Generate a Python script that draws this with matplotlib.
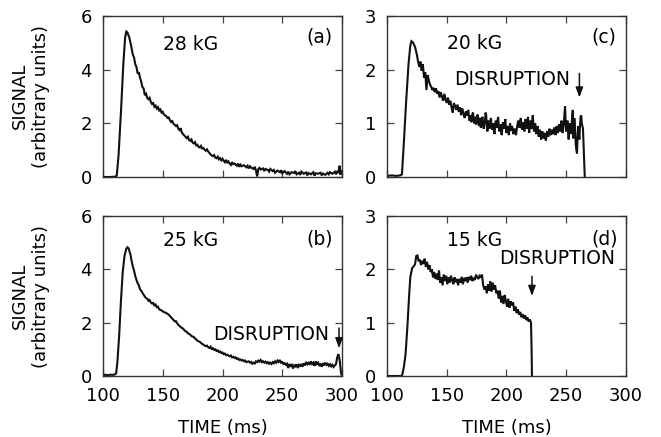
import matplotlib
matplotlib.use("Agg")
import matplotlib.pyplot as plt

plt.rcParams['font.family'] = ['DejaVu Sans']

# ---------------- data ----------------
t_a = [100, 105, 110, 111.5, 113, 115, 117, 118.5, 119.5, 120.5, 122, 123.5, 125, 126, 127, 128, 129, 130,
       131, 132, 133, 134, 135, 136, 137, 138, 139, 140, 141, 142, 143, 144, 145, 146, 147, 148, 149, 150,
       151, 152, 153, 154, 155, 156, 157, 158, 159, 160, 161, 162, 163, 164, 165, 166, 167, 168, 169, 170,
       171, 172, 173, 174, 175, 176, 177, 178, 179, 180, 181, 182, 183, 184, 185, 186, 187, 188, 189, 190,
       191, 192, 193, 194, 195, 196, 197, 198, 199, 200, 201, 202, 203, 204, 205, 206, 207, 208, 209, 210,
       212, 213, 214, 215, 216, 218, 220, 221, 222, 223, 224, 226, 227, 228, 229, 230, 231, 232, 234, 235,
       236, 238, 239, 240, 242, 243, 244, 246, 248, 249, 250, 252, 254, 255, 256, 258, 260, 261, 262, 264,
       265, 266, 268, 270, 271, 272, 274, 276, 277, 278, 280, 282, 283, 284, 286, 288, 289, 290, 292, 294,
       295, 296, 297, 298, 298.8, 299.5, 300]
s_a = [0.0, 0.0, 0.01, 0.05, 0.8, 2.4, 4.2, 5.2, 5.42, 5.38, 5.2, 4.9, 4.55, 4.45, 4.2, 4.1, 3.85, 3.9,
       3.7, 3.55, 3.35, 3.3, 3.05, 3.1, 2.95, 2.9, 2.95, 2.8, 2.72, 2.75, 2.62, 2.66, 2.55, 2.6, 2.48, 2.52, 2.4, 2.43,
       2.33, 2.3, 2.26, 2.2, 2.22, 2.12, 2.05, 2.08, 1.98, 1.95, 1.9, 1.93, 1.8, 1.75, 1.82, 1.65, 1.6, 1.55, 1.5, 1.45,
       1.5, 1.38, 1.35, 1.4, 1.28, 1.25, 1.3, 1.18, 1.2, 1.12, 1.1, 1.16, 1.06, 1.08, 1.02, 0.98, 1.03, 0.95, 0.9, 0.84,
       0.8, 0.78, 0.82, 0.72, 0.7, 0.76, 0.66, 0.7, 0.62, 0.68, 0.6, 0.55, 0.64, 0.52, 0.58, 0.5, 0.45, 0.55, 0.48, 0.5,
       0.42, 0.5, 0.38, 0.46, 0.4, 0.44, 0.36, 0.42, 0.32, 0.4, 0.35, 0.3, 0.38, 0.25, 0.02, 0.3, 0.34, 0.28, 0.32, 0.22,
       0.3, 0.26, 0.2, 0.3, 0.22, 0.26, 0.16, 0.24, 0.18, 0.25, 0.14, 0.22, 0.12, 0.2, 0.1, 0.18, 0.15, 0.22, 0.1, 0.16,
       0.08, 0.2, 0.12, 0.17, 0.06, 0.15, 0.1, 0.18, 0.05, 0.14, 0.12, 0.16, 0.06, 0.13, 0.08, 0.16, 0.1, 0.18, 0.12, 0.2,
       0.1, 0.22, 0.15, 0.42, 0.08, 0.25, 0.12]

t_b = [100, 102, 104, 106, 108, 110, 111, 112, 113.5, 115, 116.5, 118, 119.5, 120.5, 121.5, 123, 124, 125, 126,
       127, 128, 129, 130, 131, 132, 133, 134, 135, 136, 137, 138, 139, 140, 141, 142, 143, 144, 145, 146, 147,
       148, 149, 150, 151, 152, 153, 154, 155, 156, 157, 158, 159, 160, 161, 162, 163, 164, 165, 166, 167, 168,
       169, 170, 171, 172, 173, 174, 175, 176, 177, 178, 179, 180, 181, 182, 183, 184, 185, 186, 187, 188, 189,
       190, 191, 192, 193, 194, 195, 196, 197, 198, 199, 200, 201, 202, 203, 204, 205, 206, 207, 208, 209, 210,
       211, 212, 213, 214, 215, 216, 217, 218, 219, 220, 222, 223, 224, 225, 226, 227, 228, 229, 230, 231, 232,
       233, 234, 235, 236, 237, 238, 239, 240, 241, 242, 243, 244, 245, 246, 247, 248, 249, 250, 251, 252, 253,
       254, 255, 256, 257, 258, 259, 260, 261, 262, 263, 264, 265, 266, 267, 268, 269, 270, 271, 272, 273, 274,
       275, 276, 277, 278, 279, 280, 281, 282, 283, 284, 285, 286, 287, 288, 289, 290, 291, 292, 293, 294, 295,
       296, 297, 298, 299, 299.5]
s_b = [0.02, 0.05, 0.03, 0.05, 0.04, 0.06, 0.1, 0.5, 1.5, 2.8, 3.9, 4.5, 4.78, 4.83, 4.78, 4.55, 4.3, 4.1, 3.95,
       3.75, 3.6, 3.48, 3.4, 3.25, 3.2, 3.12, 3.05, 2.98, 2.92, 2.9, 2.82, 2.85, 2.76, 2.72, 2.74, 2.65, 2.68, 2.58, 2.6, 2.5,
       2.48, 2.46, 2.42, 2.4, 2.38, 2.36, 2.33, 2.3, 2.25, 2.2, 2.15, 2.1, 2.05, 2.06, 1.98, 1.92, 1.88, 1.84, 1.8, 1.78, 1.72,
       1.68, 1.66, 1.6, 1.58, 1.55, 1.5, 1.48, 1.46, 1.4, 1.38, 1.32, 1.3, 1.28, 1.24, 1.2, 1.18, 1.14, 1.12, 1.14, 1.08, 1.05,
       1.1, 1.02, 1.04, 0.98, 1.0, 0.94, 0.96, 0.9, 0.92, 0.86, 0.88, 0.82, 0.84, 0.78, 0.8, 0.76, 0.74, 0.77, 0.7, 0.72, 0.68,
       0.7, 0.64, 0.66, 0.6, 0.62, 0.58, 0.6, 0.55, 0.58, 0.52, 0.55, 0.5, 0.53, 0.46, 0.5, 0.47, 0.55, 0.52, 0.58, 0.54, 0.6,
       0.52, 0.55, 0.5, 0.54, 0.48, 0.52, 0.46, 0.5, 0.45, 0.52, 0.48, 0.55, 0.5, 0.58, 0.53, 0.6, 0.5, 0.52, 0.45, 0.48, 0.42,
       0.46, 0.3, 0.45, 0.38, 0.42, 0.28, 0.4, 0.36, 0.44, 0.3, 0.42, 0.38, 0.45, 0.35, 0.48, 0.4, 0.5, 0.44, 0.52, 0.42, 0.55,
       0.45, 0.5, 0.38, 0.55, 0.45, 0.5, 0.4, 0.44, 0.35, 0.48, 0.4, 0.5, 0.42, 0.46, 0.38, 0.44, 0.36, 0.42, 0.34, 0.4, 0.45,
       0.7, 0.82, 0.6, 0.2, 0.05]

t_c = [100, 104, 108, 111, 112.5, 114, 116, 118, 119.5, 120.5, 122, 123.5, 125, 126, 127, 128, 129, 130, 131,
       132, 133, 134, 135, 136, 137, 138, 139, 140, 141, 142, 143, 144, 145, 146, 147, 148, 149, 150, 151, 152,
       153, 154, 155, 156, 157, 158, 159, 160, 161, 162, 163, 164, 165, 166, 167, 168, 169,
       170, 170.5, 171, 171.5, 172, 172.5, 173, 173.5, 174, 174.5, 175, 175.5, 176, 176.5, 177, 177.5, 178, 178.5,
       179, 179.5, 180, 180.5, 181, 181.5, 182, 182.5, 183, 183.5, 184, 184.5, 185, 185.5, 186, 186.5, 187, 187.5,
       188, 188.5, 189, 189.5, 190, 190.5, 191, 191.5, 192, 192.5, 193, 193.5, 194, 194.5, 195, 195.5, 196, 196.5,
       197, 197.5, 198, 198.5, 199, 199.5, 200, 200.5, 201, 201.5, 202, 202.5, 203, 203.5, 204, 204.5, 205, 205.5,
       206, 206.5, 207, 207.5, 208, 208.5, 209, 209.5, 210, 210.5, 211, 211.5, 212, 212.5, 213, 213.5, 214, 214.5,
       215, 215.5, 216, 216.5, 217, 217.5, 218, 218.5, 219, 219.5, 220, 220.5, 221, 221.5, 222, 222.5, 223, 223.5,
       224, 224.5, 225, 225.5, 226, 226.5, 227, 227.5, 228, 228.5, 229, 229.5, 230, 230.5, 231, 231.5, 232, 232.5,
       233, 233.5, 234, 234.5, 235, 235.5, 236, 236.5, 237, 237.5, 238, 238.5, 239, 239.5, 240, 240.5, 241, 241.5,
       242, 242.5, 243, 243.5, 244, 244.5, 245, 245.5, 246, 246.5, 247, 247.5, 248, 248.5, 249, 249.5, 250, 250.5,
       251, 251.5, 252, 252.5, 253, 253.5, 254, 254.5, 255, 255.5, 256, 256.5, 257, 257.5, 258, 258.5, 259, 259.5,
       260, 260.5, 261, 261.5, 262, 262.5, 263, 263.5, 264, 264.8, 265.5]
s_c = [0.02, 0.03, 0.02, 0.03, 0.05, 0.6, 1.4, 2.1, 2.45, 2.53, 2.5, 2.42, 2.28, 2.15, 2.05, 2.15, 1.98, 2.1, 1.85,
       1.95, 1.62, 1.9, 1.8, 1.72, 1.68, 1.62, 1.66, 1.58, 1.65, 1.55, 1.6, 1.48, 1.58, 1.5, 1.42, 1.55, 1.45, 1.38, 1.48, 1.35,
       1.42, 1.3, 1.2, 1.38, 1.32, 1.25, 1.35, 1.22, 1.3, 1.15, 1.28, 1.18, 1.1, 1.22, 1.14, 1.25, 1.05,
       1.15, 1.02, 1.08, 1.18, 1.2, 1.05, 1.0, 1.1, 1.12, 0.98, 1.04, 1.16, 1.15, 1.0, 0.95, 1.08, 1.1, 0.92,
       0.98, 1.1, 1.12, 0.95, 0.9, 1.0, 1.05, 1.2, 1.15, 0.95, 0.85, 0.98, 1.05, 0.9, 0.92, 1.05, 1.1, 0.95,
       0.88, 0.95, 1.0, 0.85, 0.8, 0.95, 1.05, 0.98, 0.92, 1.05, 1.12, 0.95, 0.85, 0.9, 0.98, 0.85, 0.78, 0.9,
       1.02, 0.95, 0.9, 1.0, 1.08, 0.92, 0.82, 0.9, 0.95, 0.85, 0.78, 0.92, 1.0, 0.9, 0.86, 0.95, 0.92, 0.82,
       0.8, 0.88, 0.9, 0.82, 0.78, 0.88, 0.95, 1.02, 1.05, 0.95, 0.92, 1.05, 1.1, 0.95, 0.88, 0.98, 1.02, 0.9,
       0.85, 1.0, 1.08, 0.98, 0.9, 1.02, 1.12, 0.95, 0.82, 0.95, 1.05, 0.98, 0.9, 1.05, 1.15, 0.98, 0.85, 0.92,
       1.0, 0.88, 0.8, 0.9, 0.95, 0.82, 0.75, 0.85, 0.88, 0.76, 0.7, 0.8, 0.85, 0.75, 0.72, 0.8, 0.82, 0.72,
       0.68, 0.78, 0.85, 0.8, 0.75, 0.84, 0.9, 0.82, 0.78, 0.85, 0.88, 0.82, 0.8, 0.88, 0.92, 0.84, 0.78, 0.88,
       0.95, 0.86, 0.82, 0.92, 0.98, 0.9, 0.85, 0.95, 1.05, 0.9, 0.82, 0.92, 1.0, 1.15, 1.32, 1.0, 0.85, 0.95,
       1.05, 0.85, 0.7, 0.85, 1.0, 0.9, 0.8, 0.95, 1.15, 1.25, 0.72, 0.9, 1.1, 0.85, 0.6, 0.5, 0.44, 0.75,
       0.95, 0.8, 0.7, 0.95, 1.12, 1.15, 1.0, 0.95, 0.9, 0.4, 0.0]

t_d = [100, 112.5, 114, 115.5, 117, 118.5, 119.5, 121, 122.5, 123.5, 124.5, 125.5, 126.5, 127.5, 128.5, 129.5,
       130.5, 131.5, 132.5, 133.5, 134.5, 135.5, 136.5, 137.5, 138.5, 139.5, 140.5, 141.5, 142.5, 143.5, 144.5,
       145.5, 146.5, 147.5, 148.5, 149.5, 150.5, 151.5, 152.5, 153.5, 154.5, 155.5, 156.5, 157.5, 158.5, 159.5,
       160.5, 161.5, 162.5, 163.5, 164.5, 165.5, 166.5, 167.5, 168.5, 169.5, 170.5, 171.5, 172.5, 173.5, 174.5,
       175.5, 176.5, 177.5, 178.5, 179.5, 180.5, 181.5, 182.5, 183.5, 184.5, 185.5, 186.5, 187.5, 188.5, 189.5,
       190.5, 191.5, 192.5, 193.5, 194.5, 195.5, 196.5, 197.5, 198.5, 199.5, 200.5, 201.5, 202.5, 203.5, 204.5,
       205.5, 206.5, 207.5, 208.5, 209.5, 210.5, 211.5, 212.5, 213.5, 214.5, 215.5, 216.5, 217.5, 218.5, 219.5,
       220.5, 221, 221.3]
s_d = [0.0, 0.0, 0.15, 0.4, 0.9, 1.5, 1.85, 2.02, 2.06, 2.1, 2.25, 2.26, 2.15, 2.18, 2.08, 2.16,
       2.1, 2.2, 2.05, 2.14, 2.0, 2.08, 1.95, 2.0, 1.85, 1.95, 1.82, 1.92, 1.8, 1.98, 1.75,
       1.85, 1.7, 1.9, 1.78, 1.88, 1.72, 1.85, 1.75, 1.88, 1.8, 1.72, 1.85, 1.76, 1.82, 1.7,
       1.82, 1.75, 1.86, 1.72, 1.84, 1.78, 1.85, 1.75, 1.86, 1.8, 1.88, 1.78, 1.84, 1.8, 1.9,
       1.85, 1.82, 1.88, 1.86, 1.9, 1.7, 1.62, 1.68, 1.55, 1.72, 1.6, 1.78, 1.58, 1.75, 1.62,
       1.7, 1.55, 1.6, 1.45, 1.6, 1.38, 1.5, 1.35, 1.52, 1.4, 1.3, 1.45, 1.28, 1.4, 1.32,
       1.38, 1.22, 1.3, 1.18, 1.25, 1.15, 1.2, 1.1, 1.16, 1.08, 1.14, 1.05, 1.1, 1.02, 1.06,
       1.0, 0.5, 0.0]

field_labels = ["28 kG", "25 kG", "20 kG", "15 kG"]
panel_labels = ["(a)", "(b)", "(c)", "(d)"]
x_ticks = [100, 150, 200, 250, 300]
y_ticks_left = [0, 2, 4, 6]
y_ticks_right = [0, 1, 2, 3]
disruption_times = [None, 297.5, 261, 221.3]

# ---------------- figure ----------------
W, H = 661, 437
fig = plt.figure(figsize=(W / 100, H / 100), dpi=100)

def frac(l, t, r, b):
    return [l / W, 1 - b / H, (r - l) / W, (b - t) / H]

ax_a = fig.add_axes(frac(103, 16, 342, 177))
ax_c = fig.add_axes(frac(387, 16, 626, 177))
ax_b = fig.add_axes(frac(103, 216, 342, 376))
ax_d = fig.add_axes(frac(387, 216, 626, 376))

spec = [
    (ax_a, t_a, s_a, y_ticks_left, 0),
    (ax_b, t_b, s_b, y_ticks_left, 1),
    (ax_c, t_c, s_c, y_ticks_right, 2),
    (ax_d, t_d, s_d, y_ticks_right, 3),
]

ink = '#111111'
for ax, t, s, yt, i in spec:
    ax.plot(t, s, color=ink, lw=1.5, solid_joinstyle='miter', clip_on=True)
    ax.set_xlim(x_ticks[0], x_ticks[-1])
    ax.set_ylim(yt[0], yt[-1])
    ax.set_xticks(x_ticks)
    ax.set_yticks(yt)
    ax.tick_params(direction='in', length=5, width=0.9, color='#444444',
                   top=True, right=True, labelsize=13, pad=8)
    for sp in ax.spines.values():
        sp.set_color('#333333')
        sp.set_linewidth(1.0)
    if i in (0, 2):
        ax.set_xticklabels([])

# x axis titles
for xc in ((103 + 342) / 2, (387 + 626) / 2):
    fig.text(xc / W, 1 - 428 / H, "TIME (ms)", fontsize=13, ha='center', va='center')

# labels inside panels (data coordinates)
ax_a.text(150.5, 4.92, field_labels[0], fontsize=13.5, va='center', ha='left')
ax_a.text(270, 5.2, panel_labels[0], fontsize=13.5, va='center', ha='left')
ax_b.text(150.5, 5.08, field_labels[1], fontsize=13.5, va='center', ha='left')
ax_b.text(270.5, 5.14, panel_labels[1], fontsize=13.5, va='center', ha='left')
ax_c.text(150, 2.49, field_labels[2], fontsize=13.5, va='center', ha='left')
ax_c.text(271, 2.61, panel_labels[2], fontsize=13.5, va='center', ha='left')
ax_d.text(150, 2.54, field_labels[3], fontsize=13.5, va='center', ha='left')
ax_d.text(271, 2.57, panel_labels[3], fontsize=13.5, va='center', ha='left')

ax_b.text(240.5, 1.57, "DISRUPTION", fontsize=13.5, va='center', ha='center')
ax_c.text(204.3, 1.81, "DISRUPTION", fontsize=13.5, va='center', ha='center')
ax_d.text(242.3, 2.2, "DISRUPTION", fontsize=13.5, va='center', ha='center')

arrow_kw = dict(arrowstyle='-|>,head_length=0.6,head_width=0.22', color=ink, lw=1.1,
                shrinkA=0, shrinkB=0)
ax_b.annotate('', xy=(disruption_times[1], 1.04), xytext=(disruption_times[1], 1.8), arrowprops=arrow_kw)
ax_c.annotate('', xy=(disruption_times[2], 1.48), xytext=(disruption_times[2], 1.93), arrowprops=arrow_kw)
ax_d.annotate('', xy=(disruption_times[3], 1.5), xytext=(disruption_times[3], 1.87), arrowprops=arrow_kw)

# y axis titles
for yc in (96, 296):
    fig.text(20 / W, 1 - yc / H, "SIGNAL", rotation=90, fontsize=13, ha='center', va='center')
    fig.text(41 / W, 1 - yc / H, "(arbitrary units)", rotation=90, fontsize=13, ha='center', va='center')

fig.savefig("out.png", dpi=100)
